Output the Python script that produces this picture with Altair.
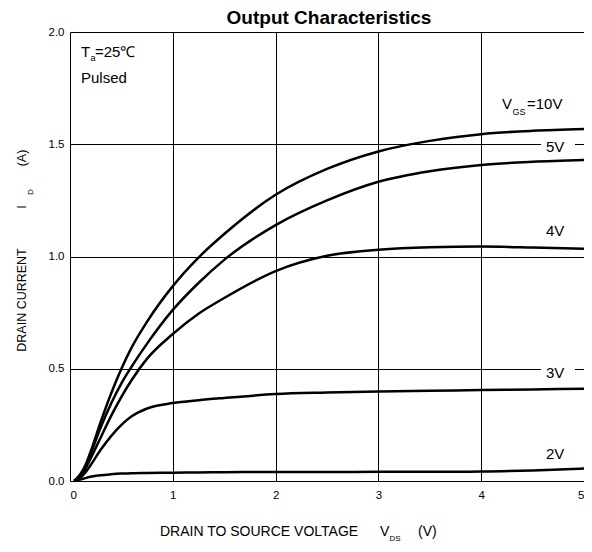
import altair as alt
import pandas as pd

# ---- data ----
vds = [0.04, 0.1, 0.15, 0.2, 0.3, 0.4, 0.5, 0.6, 0.75, 1.0, 1.25, 1.5, 2.0, 2.5, 3.0, 3.5, 4.0, 4.5, 5.0]
id_10v = [0.0, 0.03, 0.07, 0.13, 0.265, 0.39, 0.50, 0.595, 0.71, 0.868, 0.995, 1.10, 1.275, 1.39, 1.468, 1.515, 1.545, 1.56, 1.568]
id_5v = [0.0, 0.025, 0.065, 0.12, 0.24, 0.345, 0.435, 0.51, 0.612, 0.762, 0.882, 0.985, 1.14, 1.25, 1.333, 1.38, 1.408, 1.422, 1.43]
id_4v = [0.0, 0.02, 0.055, 0.10, 0.195, 0.29, 0.375, 0.45, 0.545, 0.655, 0.745, 0.815, 0.935, 1.003, 1.03, 1.041, 1.044, 1.04, 1.034]
id_3v = [0.0, 0.015, 0.038, 0.07, 0.14, 0.20, 0.25, 0.288, 0.323, 0.347, 0.36, 0.37, 0.387, 0.394, 0.399, 0.402, 0.405, 0.408, 0.411]
id_2v = [0.0, 0.006, 0.013, 0.019, 0.026, 0.030, 0.033, 0.035, 0.036, 0.037, 0.038, 0.039, 0.040, 0.040, 0.041, 0.041, 0.042, 0.047, 0.056]
series_names = ["10V", "5V", "4V", "3V", "2V"]
series_values = [id_10v, id_5v, id_4v, id_3v, id_2v]

x_ticks = [0, 1, 2, 3, 4, 5]
y_ticks = [0.0, 0.5, 1.0, 1.5, 2.0]

rows = []
for name, vals in zip(series_names, series_values):
    for xv, yv in zip(vds, vals):
        rows.append({"series": name, "vds": xv, "id": yv})
df = pd.DataFrame(rows)

FONT = "Liberation Sans"
W, H = 514, 449
OX, OY = 70, 32  # page position of plot origin


def txt(s, px, py, size=15, weight="normal", align="left", baseline="alphabetic", angle=0):
    return alt.Chart(pd.DataFrame({"t": [s]})).mark_text(
        font=FONT, fontSize=size, fontWeight=weight, align=align,
        baseline=baseline, angle=angle, color="black"
    ).encode(x=alt.value(px - OX), y=alt.value(py - OY), text="t:N")


def white_box(x1, x2, y1, y2):
    return alt.Chart(pd.DataFrame({"a": [0]})).mark_rect(color="white").encode(
        x=alt.value(x1 - OX), x2=alt.value(x2 - OX),
        y=alt.value(y1 - OY), y2=alt.value(y2 - OY))


lines = alt.Chart(df).mark_line(color="black", strokeWidth=2.5, interpolate="monotone").encode(
    x=alt.X("vds:Q", scale=alt.Scale(domain=[0, 5], nice=False),
            axis=alt.Axis(values=x_ticks, title=None, grid=True, gridColor="black", gridWidth=1,
                          gridOpacity=1, domain=False, ticks=False, labelPadding=8,
                          labelFont=FONT, labelFontSize=11.5, labelColor="black", format="d")),
    y=alt.Y("id:Q", scale=alt.Scale(domain=[0, 2], nice=False),
            axis=alt.Axis(values=y_ticks, title=None, grid=True, gridColor="black", gridWidth=1,
                          gridOpacity=1, domain=False, ticks=False, labelPadding=6,
                          labelFont=FONT, labelFontSize=11.5, labelColor="black", format=".1f")),
    detail="series:N",
)

layers = [
    white_box(541, 575, 139, 152),
    white_box(541, 575, 363, 377),
    lines,
    # title
    txt("Output Characteristics", 329, 24, size=19, weight="bold", align="center"),
    # conditions
    txt("T", 81, 57, size=15),
    txt("a", 90.5, 61, size=9),
    txt("=25℃", 95, 57, size=15),
    txt("Pulsed", 81, 83, size=15),
    # curve labels
    txt("V", 502, 109, size=15),
    txt("GS", 512.5, 115, size=9),
    txt("=10V", 527, 109, size=15),
    txt("5V", 546, 152, size=15),
    txt("4V", 546, 236, size=15),
    txt("3V", 546, 378, size=15),
    txt("2V", 546, 459, size=15),
    # x axis title
    txt("DRAIN TO SOURCE VOLTAGE", 160, 536, size=14),
    txt("V", 380, 536, size=14),
    txt("DS", 389.5, 541, size=8),
    txt("(V)", 418, 536, size=14),
    # y axis title
    txt("DRAIN CURRENT", 26, 300, size=12.5, align="center", angle=270),
    txt("I", 26, 207, size=12.5, align="center", angle=270),
    txt("D", 32.5, 192, size=8, align="center", angle=270),
    txt("(A)", 26, 158, size=12.5, align="center", angle=270),
]

chart = alt.layer(*layers).properties(
    width=W, height=H,
    autosize=alt.AutoSizeParams(type="none"),
    padding={"left": OX - 8, "top": OY - 8, "right": 0, "bottom": 63},
).configure_view(stroke="#444", strokeWidth=2).configure(background="white")

chart.save("out.html", embed_options={"renderer": "svg", "actions": False})
